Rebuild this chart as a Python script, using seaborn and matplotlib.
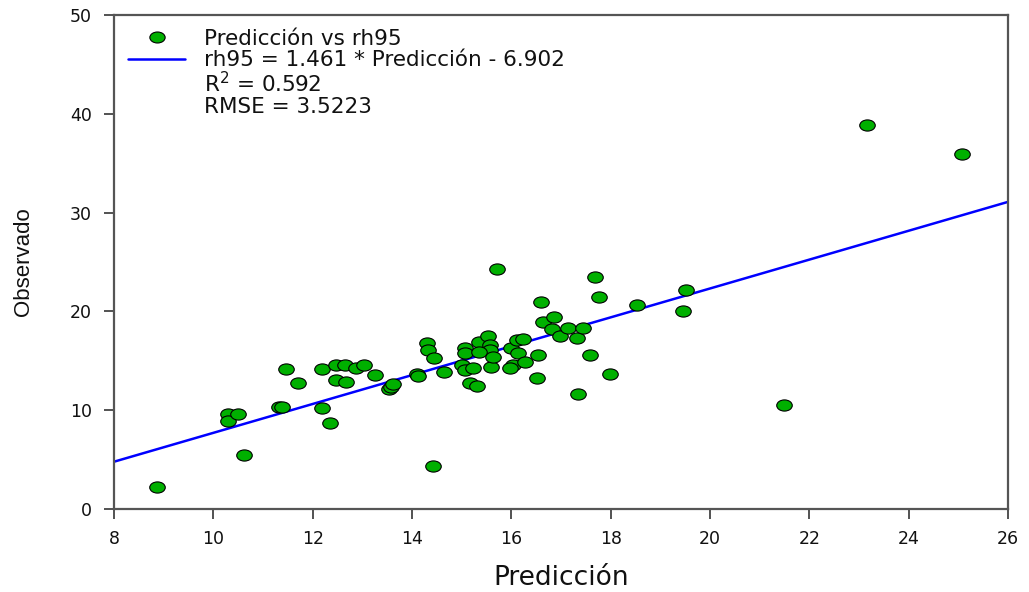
import numpy as np
import pandas as pd
import matplotlib
matplotlib.use("Agg")
import matplotlib.pyplot as plt
from matplotlib.path import Path
from matplotlib.transforms import Affine2D
from matplotlib.lines import Line2D
import seaborn as sns

# Predicted values (x) and observed rh95 (y)
prediccion = [
    8.87, 10.62, 10.29, 10.29, 10.49, 11.32, 11.38, 11.46, 11.70, 12.19,
    12.34, 12.19, 12.46, 12.46, 12.66, 12.68, 12.87, 13.04, 13.25, 13.53,
    13.57, 13.62, 14.10, 14.13, 14.31, 14.33, 14.45, 14.43, 14.64, 15.00,
    15.07, 15.23, 15.60, 15.17, 15.30, 15.07, 15.07, 15.34, 15.54, 15.57,
    15.57, 15.34, 15.64, 15.72, 16.00, 16.11, 16.24, 16.14, 16.04, 15.97,
    16.27, 16.54, 16.51, 16.60, 16.64, 16.85, 16.81, 16.98, 17.15, 17.32,
    17.45, 17.58, 17.68, 17.76, 17.99, 17.35, 18.54, 19.51, 19.46, 21.48,
    23.17, 25.07,
]
observado = [
    2.2, 5.47, 9.6, 8.94, 9.6, 10.3, 10.35, 14.17, 12.78, 10.22,
    8.74, 14.14, 14.6, 13.1, 14.54, 12.89, 14.24, 14.54, 13.53, 12.11,
    12.32, 12.65, 13.63, 13.45, 16.83, 16.09, 15.32, 4.32, 13.87, 14.57,
    14.07, 14.24, 14.40, 12.72, 12.45, 16.26, 15.76, 16.93, 17.51, 16.6,
    16.09, 15.92, 15.42, 24.29, 16.26, 17.11, 17.17, 15.76, 14.57, 14.24,
    14.91, 15.59, 13.23, 20.92, 18.93, 19.47, 18.19, 17.51, 18.29, 17.28,
    18.29, 15.59, 23.51, 21.49, 13.66, 11.61, 20.68, 22.13, 20.04, 10.56,
    38.87, 35.9,
]

# Fitted regression: rh95 = slope * Predicción + intercept
slope = 1.461
intercept = -6.902
r2 = 0.592
rmse = 3.5223

x_ticks = [8, 10, 12, 14, 16, 18, 20, 22, 24, 26]
y_ticks = [0, 10, 20, 30, 40, 50]

sns.set_style("white")
plt.rcParams["font.family"] = ["DejaVu Sans"]

df = pd.DataFrame({"Predicción": prediccion, "Observado": observado})
fit_x = np.array([x_ticks[0], x_ticks[-1]], dtype=float)
fit_df = pd.DataFrame({"x": fit_x, "y": slope * fit_x + intercept})

# Slightly flattened circle used as the point marker
ellipse = Path.unit_circle().transformed(Affine2D().scale(1.0, 0.72))

fig = plt.figure(figsize=(10.29, 5.92), dpi=100)
ax = fig.add_axes([0.1108, 0.1402, 0.8688, 0.8345])

green = "#00b000"
sns.lineplot(data=fit_df, x="x", y="y", ax=ax, color="#0000ff", linewidth=1.8, zorder=2)
sns.scatterplot(data=df, x="Predicción", y="Observado", ax=ax, marker=ellipse,
                s=125, color=green, edgecolor="black", linewidth=0.8, zorder=3)

ax.set_xlim(x_ticks[0], x_ticks[-1])
ax.set_ylim(y_ticks[0], y_ticks[-1])
ax.set_xticks(x_ticks)
ax.set_yticks(y_ticks)
ax.tick_params(axis="both", direction="out", length=7, width=1.3, color="#444444",
               labelsize=12.5, labelcolor="#111111",
               top=False, right=False, bottom=True, left=True)
ax.tick_params(axis="x", pad=8)
ax.tick_params(axis="y", pad=9)
for sp in ax.spines.values():
    sp.set_color("#555555")
    sp.set_linewidth(1.6)

ax.set_xlabel("Predicción", fontsize=19, labelpad=12, color="#111111")
ax.set_ylabel("Observado", fontsize=16, labelpad=26, color="#111111",
              family=["Liberation Sans", "DejaVu Sans"])

handles = [
    Line2D([], [], linestyle="none", marker=ellipse, markersize=11,
           markerfacecolor=green, markeredgecolor="black", markeredgewidth=0.8),
    Line2D([], [], color="#0000ff", linewidth=1.8),
    Line2D([], [], linestyle="none"),
    Line2D([], [], linestyle="none"),
]
labels = [
    "Predicción vs rh95",
    f"rh95 = {slope:.3f} * Predicción - {abs(intercept):.3f}",
    f"R$^2$ = {r2:.3f}",
    f"RMSE = {rmse:.4f}",
]
leg = ax.legend(handles, labels, loc="upper left", bbox_to_anchor=(0.0, 1.0),
                frameon=False, fontsize=15.5, handlelength=2.65, handletextpad=0.9,
                labelspacing=0.05, borderpad=0.4, borderaxespad=0.25)
for t in leg.get_texts():
    t.set_color("#111111")

fig.savefig("out.png", dpi=100)
